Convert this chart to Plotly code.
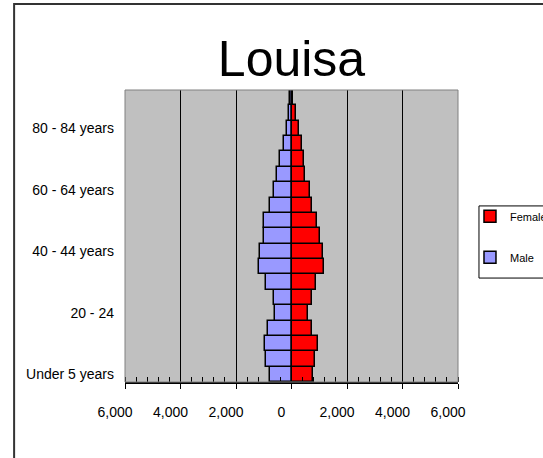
import plotly.graph_objects as go

# age groups, bottom to top
age_groups = ['Under 5 years', '5 - 9 years', '10 - 14 years', '15 - 19 years',
              '20 - 24', '25 - 29 years', '30 - 34 years', '35 - 39 years',
              '40 - 44 years', '45 - 49 years', '50 - 54 years', '55 - 59 years',
              '60 - 64 years', '65 - 69 years', '70 - 74 years', '75 - 79 years',
              '80 - 84 years', '85 - 89 years', '90 years and over']

male = [758, 902, 939, 842, 578, 638, 902, 1167, 1119, 987,
        987, 758, 626, 530, 397, 265, 168, 97, 40]
female = [758, 854, 939, 746, 578, 722, 866, 1179, 1119, 1023,
          927, 746, 650, 493, 445, 385, 253, 156, 50]

x_ticks = [-6000, -4000, -2000, 0, 2000, 4000, 6000]
x_tick_labels = ['6,000', '4,000', '2,000', '0', '2,000', '4,000', '6,000']

font_family = 'Liberation Sans, Arial'

fig = go.Figure()

fig.add_trace(go.Bar(name = 'Male',
                     y = age_groups,
                     x = [-v for v in male],
                     orientation = 'h',
                     marker = {'color': '#9999FF',
                               'line': {'color': 'black', 'width': 1.5}},
                     legendgroup = 'm',
                     legendrank = 2))

fig.add_trace(go.Bar(name = 'Female',
                     y = age_groups,
                     x = female,
                     orientation = 'h',
                     marker = {'color': '#FF0000',
                               'line': {'color': 'black', 'width': 1.5}},
                     legendgroup = 'f',
                     legendrank = 1))

fig.update_layout(width = 543,
                  height = 458,
                  paper_bgcolor = 'white',
                  plot_bgcolor = '#C0C0C0',
                  barmode = 'relative',
                  bargap = 0,
                  title = {'text': 'Louisa',
                           'font': {'family': font_family, 'size': 50, 'color': 'black'},
                           'x': 0.5,
                           'xref': 'paper',
                           'xanchor': 'center',
                           'y': 0.872,
                           'yanchor': 'middle'},
                  legend = {'x': 1.036,
                            'xanchor': 'left',
                            'y': 0.617,
                            'yanchor': 'top',
                            'traceorder': 'grouped',
                            'tracegroupgap': 22,
                            'bgcolor': 'rgba(0,0,0,0)',
                            'borderwidth': 0,
                            'font': {'family': font_family, 'size': 11, 'color': 'black'}},
                  margin = {'l': 125, 'r': 85, 't': 90, 'b': 76, 'autoexpand': False},
                  xaxis = {'range': [-6000, 6000],
                           'tickvals': x_ticks,
                           'ticktext': x_tick_labels,
                           'tickfont': {'family': font_family, 'size': 14, 'color': 'black'},
                           'ticks': 'outside',
                           'ticklen': 5,
                           'tickcolor': 'black',
                           'ticklabelstandoff': 11,
                           'ticklabelshift': -10,
                           'minor': {'dtick': 400, 'ticks': 'inside', 'ticklen': 5,
                                     'tickcolor': 'black', 'showgrid': False},
                           'showgrid': True,
                           'gridcolor': 'black',
                           'gridwidth': 1,
                           'zeroline': True,
                           'zerolinecolor': 'black',
                           'zerolinewidth': 2,
                           'showline': True,
                           'linecolor': 'black',
                           'linewidth': 1.5,
                           'fixedrange': True},
                  yaxis = {'type': 'category',
                           'dtick': 4,
                           'tick0': 0,
                           'tickfont': {'family': font_family, 'size': 14, 'color': 'black'},
                           'ticklabelstandoff': 10,
                           'showgrid': False,
                           'zeroline': False,
                           'fixedrange': True},
                  hovermode = False)

# plot area border, legend box and outer chart frame
fig.add_shape(type = 'rect', xref = 'paper', yref = 'paper',
              x0 = 0, x1 = 1, y0 = 0, y1 = 1,
              line = {'color': '#808080', 'width': 1}, layer = 'above')
fig.add_shape(type = 'rect', xref = 'paper', yref = 'paper',
              x0 = 1.063, x1 = 1.35, y0 = 0.356, y1 = 0.603,
              fillcolor = 'white',
              line = {'color': 'black', 'width': 1}, layer = 'above')
fig.add_shape(type = 'rect', xref = 'paper', yref = 'paper',
              x0 = -0.333, x1 = 1.5, y0 = -0.5, y1 = 1.2945,
              line = {'color': '#333333', 'width': 2}, layer = 'above')

fig.write_html('out.html',
               config = {'displayModeBar': False},
               post_script = "document.body.style.margin = '0';")
